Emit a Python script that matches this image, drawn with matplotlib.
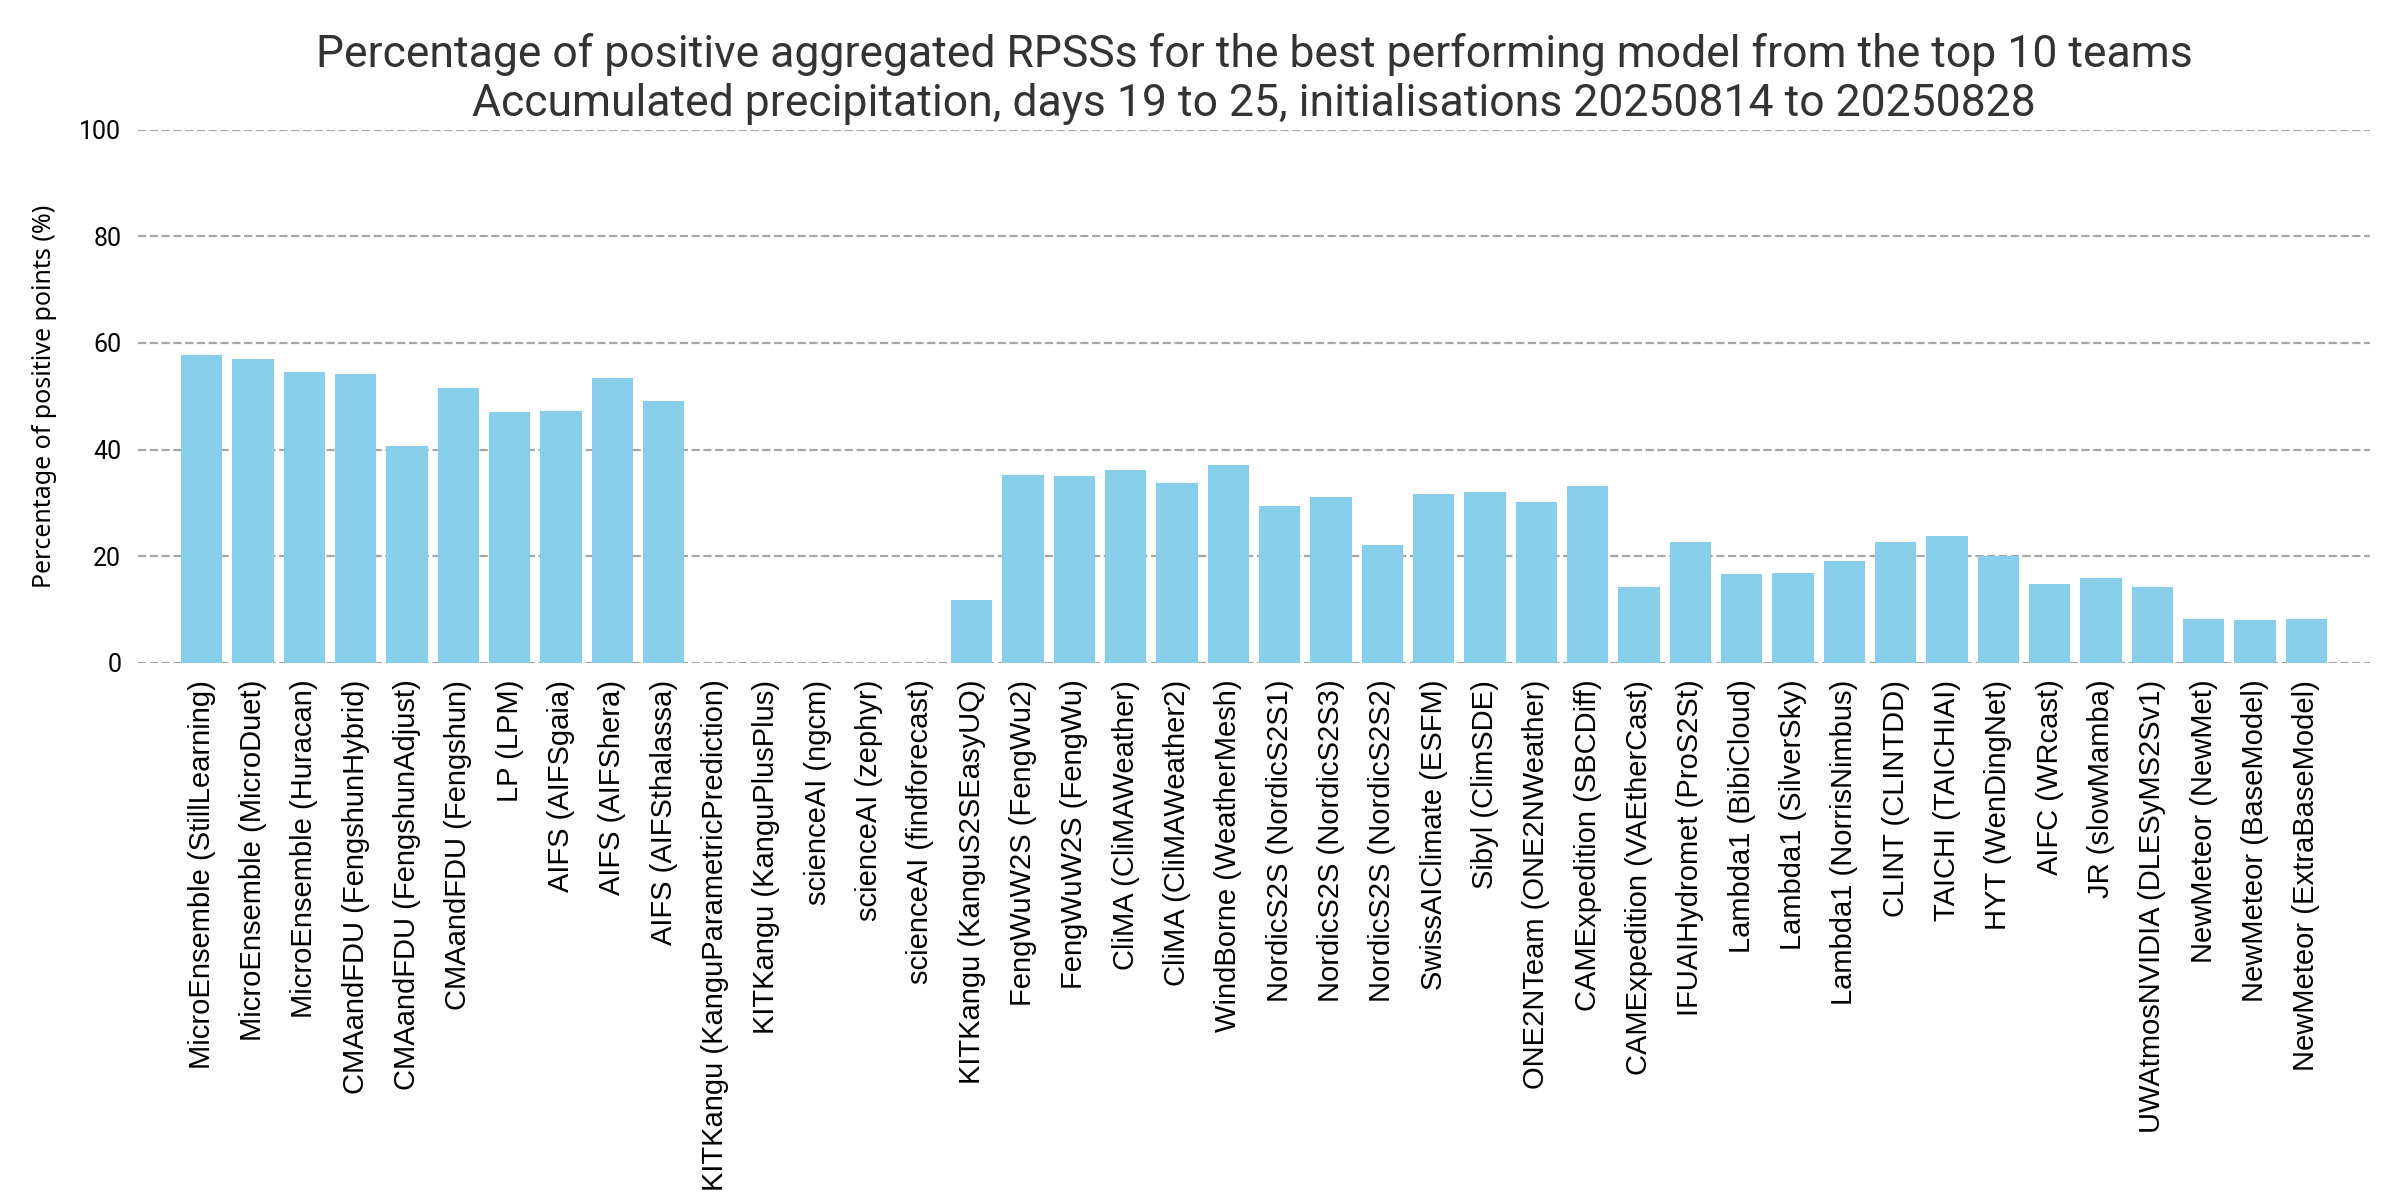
import numpy as np
import matplotlib

matplotlib.use("Agg")

import matplotlib.pyplot as plt

# model labels (team (model)) and % of positive aggregated RPSS points
models = [
    "MicroEnsemble (StillLearning)", "MicroEnsemble (MicroDuet)", "MicroEnsemble (Huracan)",
    "CMAandFDU (FengshunHybrid)", "CMAandFDU (FengshunAdjust)", "CMAandFDU (Fengshun)",
    "LP (LPM)", "AIFS (AIFSgaia)", "AIFS (AIFShera)", "AIFS (AIFSthalassa)",
    "KITKangu (KanguParametricPrediction)", "KITKangu (KanguPlusPlus)",
    "scienceAI (ngcm)", "scienceAI (zephyr)", "scienceAI (findforecast)",
    "KITKangu (KanguS2SEasyUQ)", "FengWuW2S (FengWu2)", "FengWuW2S (FengWu)",
    "CliMA (CliMAWeather)", "CliMA (CliMAWeather2)", "WindBorne (WeatherMesh)",
    "NordicS2S (NordicS2S1)", "NordicS2S (NordicS2S3)", "NordicS2S (NordicS2S2)",
    "SwissAIClimate (ESFM)", "Sibyl (ClimSDE)", "ONE2NTeam (ONE2NWeather)",
    "CAMExpedition (SBCDiff)", "CAMExpedition (VAEtherCast)", "IFUAIHydromet (ProS2St)",
    "Lambda1 (BibiCloud)", "Lambda1 (SilverSky)", "Lambda1 (NorrisNimbus)",
    "CLINT (CLINTDD)", "TAICHI (TAICHIAI)", "HYT (WenDingNet)", "AIFC (WRcast)",
    "JR (slowMamba)", "UWAtmosNVIDIA (DLESyMS2Sv1)", "NewMeteor (NewMet)",
    "NewMeteor (BaseModel)", "NewMeteor (ExtraBaseModel)",
]
pct_positive = [
    57.8, 56.9, 54.6, 54.2, 40.6, 51.6, 47.1, 47.3, 53.5, 49.2,
    np.nan, np.nan, np.nan, np.nan, np.nan,
    11.9, 35.3, 35.1, 36.2, 33.8, 37.2, 29.5, 31.2, 22.2, 31.6, 32.1, 30.2, 33.2,
    14.3, 22.6, 16.6, 16.8, 19.2, 22.6, 23.9, 20.0, 14.9, 16.0, 14.3, 8.3, 8.1, 8.3,
]

title = ("Percentage of positive aggregated RPSSs for the best performing model from the top 10 teams\n"
         "Accumulated precipitation, days 19 to 25, initialisations 20250814 to 20250828")

fig = plt.figure(figsize=(12, 6), dpi=200)
ax = fig.add_axes([0.0575, 0.4475, 0.93, 0.4445])

x = np.arange(len(models))
ax.bar(x, pct_positive, width=0.8, color="skyblue", zorder=2)

ax.set_xlim(-1.24, len(models) - 1 + 1.24)
ax.set_ylim(0, 100)
ax.set_yticks([0, 20, 40, 60, 80, 100])
ax.set_xticks(x)
ax.set_xticklabels(models, rotation=90, fontsize=10.5, family="Liberation Sans")
for lab in ax.get_yticklabels():
    lab.set_family("Roboto")
    lab.set_fontsize(9)
ax.tick_params(length=0, pad=6)
ax.grid(axis="y", linestyle="--", color="gray", alpha=0.7, linewidth=0.8, zorder=0)
for s in ax.spines.values():
    s.set_visible(False)

ax.set_ylabel("Percentage of positive points (%)", fontsize=9, family="Noto Sans", labelpad=8)
ax.set_title(title, fontsize=16, family="Roboto", color="#333333", pad=5)

fig.savefig("out.png", dpi=200)
